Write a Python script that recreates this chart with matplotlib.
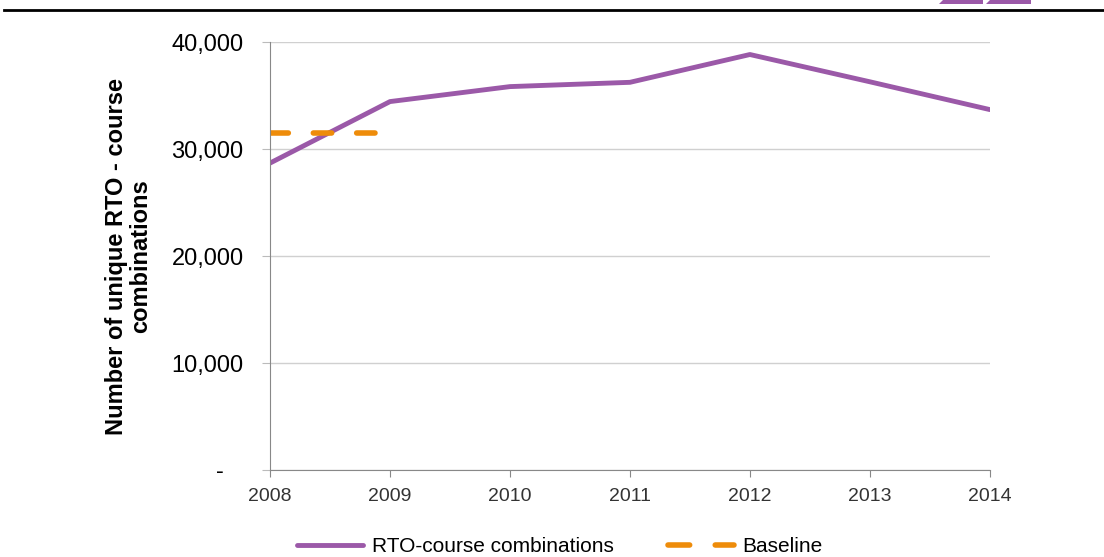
import matplotlib.pyplot as plt
from matplotlib.patches import Polygon
from matplotlib.lines import Line2D
from matplotlib.ticker import FuncFormatter

plt.rcParams['font.family'] = ['Liberation Sans', 'DejaVu Sans']

years = [2008, 2009, 2010, 2011, 2012, 2013, 2014]
combos = [28700, 34450, 35850, 36250, 38850, 36300, 33700]
baseline_years = [2008, 2009]
baseline = [31550, 31550]

purple = '#9b59a8'
orange = '#ee8c0a'

fig = plt.figure(figsize=(11.04, 5.57), dpi=100)
ax = fig.add_axes([0.2446, 0.1562, 0.652, 0.768])

ax.plot(years, combos, color=purple, lw=3.5, solid_capstyle='round', label='RTO-course combinations')
ax.plot(baseline_years, baseline, color=orange, lw=4, dashes=(3.3, 4.5), dash_capstyle='round',
        label='Baseline')

ax.set_xlim(2008, 2014)
ax.set_ylim(0, 40000)
ax.set_yticks([0, 10000, 20000, 30000, 40000])
ax.yaxis.set_major_formatter(FuncFormatter(lambda v, p: '-   ' if v == 0 else f'{int(v):,}'))
ax.grid(axis='y', color='#d0d0d0', lw=1)
ax.set_axisbelow(True)
for s in ['top', 'right']:
    ax.spines[s].set_visible(False)
for s in ['left', 'bottom']:
    ax.spines[s].set_color('#888888')
ax.tick_params(axis='x', direction='out', length=5, color='#888888', labelsize=14, labelcolor='#333333', pad=8)
ax.tick_params(axis='y', direction='out', length=6, color='#bbbbbb', labelsize=17, pad=13)
ax.set_ylabel('Number of unique RTO - course\ncombinations', fontsize=17, fontweight='bold',
              labelpad=14, linespacing=1.05)

handles = [Line2D([0], [0], color=purple, lw=3.5, solid_capstyle='round'),
           Line2D([0], [0], color=orange, lw=4, dashes=(3.9, 4.6), dash_capstyle='round')]
fig.legend(handles, ['RTO-course combinations', 'Baseline'], loc='lower center', bbox_to_anchor=(0.507, -0.032),
           ncol=2, frameon=False, fontsize=15, handlelength=3.2, columnspacing=2.6, handletextpad=0.4)

# header rule and logo fragments
fig.add_artist(Line2D([0.004, 1.0], [0.982, 0.982], color='black', lw=2, transform=fig.transFigure))
for x0, x1 in [(939, 983), (986, 1031)]:
    pts = [(x0, 553), (x1, 553), (x1, 557), (x0 + 4, 557)]
    fig.add_artist(Polygon([(x / 1104, y / 557) for x, y in pts], closed=True, color=purple,
                           lw=0, transform=fig.transFigure))

fig.savefig('out.png', dpi=100)
